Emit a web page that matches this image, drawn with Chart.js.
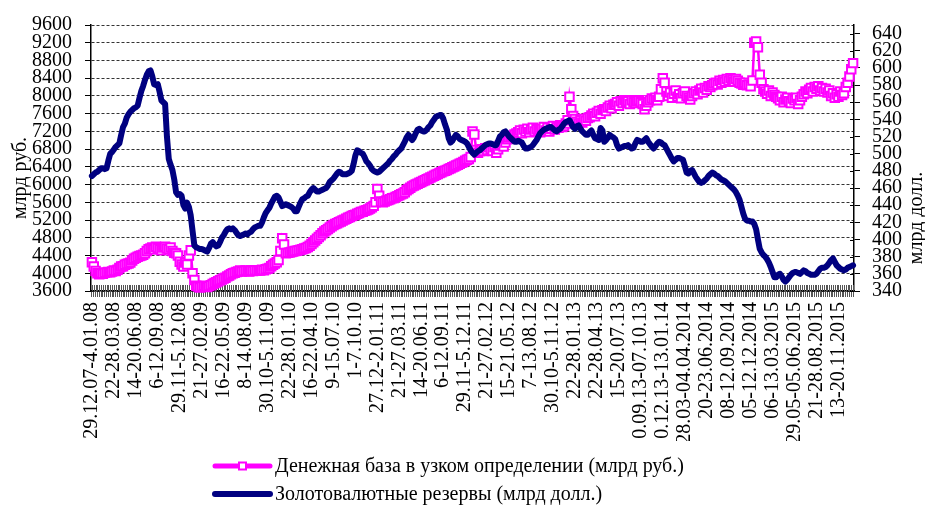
<!DOCTYPE html>
<html>
<head>
<meta charset="utf-8">
<script src="https://cdn.jsdelivr.net/npm/chart.js@4/dist/chart.umd.min.js"></script>
<style>
html,body{margin:0;padding:0;background:#fff;}
#wrap{width:925px;height:508px;position:relative;}
</style>
</head>
<body>
<div id="wrap"><canvas id="c" width="925" height="508"></canvas></div>
<script>
// ---- data ----
const tickLabels = ["29.12.07-4.01.08","22-28.03.08","14-20.06.08","6-12.09.08","29.11-5.12.08","21-27.02.09","16-22.05.09","8-14.08.09","30.10-5.11.09","22-28.01.10","16-22.04.10","9-15.07.10","1-7.10.10","27.12-2.01.11","21-27.03.11","14-20.06.11","6-12.09.11","29.11-5.12.11","21-27.02.12","15-21.05.12","7-13.08.12","30.10-5.11.12","22-28.01.13","22-28.04.13","15-20.07.13","0.09.13-07.10.13","0.12.13-13.01.14","28.03-04.04.2014","20-23.06.2014","08-12.09.2014","05-12.12.2014","06-13.03.2015","29.05-05.06.2015","21-28.08.2015","13-20.11.2015"];

const seriesNames = ["Денежная база в узком определении (млрд руб.)","Золотовалютные резервы (млрд долл.)"];
const axisTitles = ["млрд руб.","млрд долл."];

const moneyBase = [
4250,4150,4050,4000,3980,4000,3990,4010,4020,4030,
4020,4040,4060,4050,4080,4120,4150,4160,4190,4210,
4220,4240,4290,4330,4350,4370,4390,4400,4420,4450,
4500,4540,4560,4580,4540,4600,4570,4540,4520,4580,
4600,4560,4540,4580,4500,4460,4450,4400,4260,4200,
4150,4240,4200,4400,4520,4000,3850,3720,3700,3680,
3700,3720,3700,3690,3710,3730,3760,3780,3800,3820,
3840,3860,3880,3900,3930,3950,3980,4000,4010,4030,
4040,4060,4040,4050,4060,4050,4040,4060,4050,4070,
4060,4070,4060,4080,4070,4090,4100,4120,4160,4190,
4220,4250,4300,4500,4790,4650,4450,4460,4470,4480,
4490,4500,4510,4520,4530,4540,4560,4570,4590,4620,
4660,4700,4740,4780,4820,4860,4900,4940,4970,5000,
5030,5060,5090,5110,5130,5150,5170,5190,5210,5230,
5250,5270,5290,5310,5320,5340,5360,5380,5390,5410,
5420,5440,5460,5490,5520,5600,5900,5750,5620,5600,
5620,5640,5650,5670,5690,5700,5720,5740,5760,5780,
5800,5830,5870,5900,5930,5960,5980,6000,6020,6040,
6060,6080,6100,6120,6140,6160,6180,6200,6220,6240,
6260,6280,6300,6310,6330,6350,6370,6390,6410,6430,
6450,6470,6490,6510,6540,6560,6580,6620,7200,7130,
6780,6720,6760,6800,6760,6820,6780,6840,6800,6760,
6850,6720,6800,6880,6900,6860,6950,7020,7060,7100,
7080,7130,7150,7180,7220,7160,7240,7200,7260,7180,
7240,7280,7200,7250,7220,7180,7260,7300,7220,7280,
7200,7260,7320,7240,7300,7280,7340,7300,7320,7380,
7450,7980,7700,7550,7480,7420,7380,7450,7400,7480,
7440,7500,7520,7560,7600,7540,7620,7660,7600,7680,
7700,7660,7740,7780,7720,7800,7820,7860,7780,7880,
7840,7900,7860,7880,7820,7900,7860,7840,7880,7900,
7860,7820,7700,7780,7860,7900,7940,7920,7960,7900,
7980,8150,8400,8300,8100,8000,8080,7960,8050,8120,
7980,8040,7950,8060,8100,8000,7960,7920,8000,8060,
8100,8040,8120,8160,8080,8180,8140,8220,8200,8240,
8280,8300,8260,8340,8300,8360,8320,8380,8340,8400,
8360,8320,8380,8340,8300,8280,8250,8300,8240,8260,
8220,8350,9200,9230,9100,8480,8300,8150,8100,8050,
8120,8000,8080,8020,7980,7950,7900,7980,7860,7920,
7960,7880,7840,7940,7900,7960,7820,7900,7980,8040,
8100,8060,8140,8180,8100,8200,8160,8220,8120,8180,
8100,8160,8080,8120,8000,8060,7960,8040,7980,8100,
8020,8060,8200,8300,8440,8600,8740
];

const reserves = [
474,476,478,479,481,483,483,482,483,492,
500,502,505,508,510,512,522,531,535,542,
546,549,551,553,554,556,565,573,579,586,
592,596,597,590,581,580,581,572,562,560,
558,520,494,487,481,470,455,452,453,451,
440,436,443,438,428,410,393,391,390,389,
389,388,387,386,390,395,397,394,392,393,
397,402,405,409,412,413,412,413,411,408,
405,404,405,406,407,406,408,409,412,414,
415,416,416,420,426,431,434,437,442,446,
450,451,449,444,439,440,441,440,439,438,
436,433,433,438,443,447,448,450,451,455,
458,460,458,456,456,457,458,459,460,463,
467,469,471,474,477,479,478,476,476,476,
477,478,480,488,498,504,503,501,500,496,
491,489,486,482,480,479,478,479,481,483,
485,487,489,492,494,497,499,502,504,506,
510,514,519,522,519,516,519,524,528,529,
527,526,526,528,531,533,537,540,543,544,
545,545,541,534,528,518,513,515,519,522,
520,517,516,515,514,512,508,504,501,499,
501,503,504,506,508,510,511,512,512,511,
510,510,515,520,522,525,526,523,520,518,
516,514,514,515,514,513,509,506,506,507,
508,510,513,516,520,524,526,528,529,530,
531,531,529,527,526,528,529,532,535,537,
538,539,535,531,529,532,533,529,526,524,
522,522,525,527,522,518,517,516,530,527,
514,516,519,522,520,519,517,510,506,507,
508,509,509,510,508,506,507,512,516,515,
514,514,516,518,514,511,508,506,509,512,
514,513,511,510,506,502,498,494,491,493,
495,495,494,493,486,478,477,480,481,477,
473,470,467,466,467,469,471,474,476,478,
477,475,474,472,470,469,468,466,464,462,
460,458,455,451,446,438,430,424,422,422,
421,421,418,412,400,389,385,382,380,377,
373,368,362,356,356,359,360,357,353,351,
353,356,359,361,362,362,361,360,362,364,
363,361,360,359,359,359,360,363,366,367,
367,368,370,373,376,378,374,370,368,366,
365,364,365,367,368,369,370
];

const LABEL_EVERY = 12;
const categories = moneyBase.map((_, i) => (i % LABEL_EVERY === 0 ? (tickLabels[i / LABEL_EVERY] || '') : ''));

const FONT = "'Liberation Serif', 'Times New Roman', serif";
Chart.defaults.font.family = FONT;
Chart.defaults.font.size = 20;
Chart.defaults.color = '#000';

// ---- plugins ----
const innerTicks = {
  id: 'innerTicks',
  beforeDatasetsDraw(chart) {
    const {ctx, chartArea, scales} = chart;
    ctx.save();
    ctx.strokeStyle = '#555';
    ctx.lineWidth = 1;
    ctx.beginPath();
    const xs = scales.x;
    xs.ticks.forEach((t, i) => {
      const px = Math.round(xs.getPixelForTick(i)) + 0.5;
      ctx.moveTo(px, chartArea.bottom - 6);
      ctx.lineTo(px, chartArea.bottom);
    });
    ctx.stroke();
    ctx.strokeStyle = '#000';
    ctx.beginPath();
    const ys = scales.y2;
    ys.ticks.forEach((t, i) => {
      const py = Math.round(ys.getPixelForTick(i)) + 0.5;
      ctx.moveTo(chartArea.right - 4, py);
      ctx.lineTo(chartArea.right, py);
    });
    ctx.stroke();
    ctx.restore();
  }
};

const axisTitlePlugin = {
  id: 'axisTitles',
  afterDraw(chart, args, opts) {
    const ctx = chart.ctx;
    ctx.save();
    ctx.fillStyle = '#000';
    ctx.font = opts.font;
    ctx.textAlign = 'center';
    ctx.textBaseline = 'middle';
    opts.items.forEach(it => {
      ctx.save();
      ctx.translate(it.x, it.y);
      ctx.rotate(-Math.PI / 2);
      ctx.fillText(it.text, 0, 0);
      ctx.restore();
    });
    ctx.restore();
  }
};

const legendPlugin = {
  id: 'lineLegend',
  afterDraw(chart, args, opts) {
    const ctx = chart.ctx;
    ctx.save();
    chart.data.datasets.forEach((ds, k) => {
      const y = opts.y + k * opts.rowGap;
      ctx.strokeStyle = ds.borderColor;
      ctx.lineWidth = opts.lineWidth[k];
      ctx.lineCap = 'round';
      ctx.beginPath();
      ctx.moveTo(opts.x, y);
      ctx.lineTo(opts.x + opts.lineLen, y);
      ctx.stroke();
      if (ds.pointRadius > 0) {
        const s = 7;
        const cx = opts.x + opts.lineLen / 2;
        ctx.fillStyle = '#fff';
        ctx.fillRect(cx - s / 2, y - s / 2, s, s);
        ctx.lineWidth = 2;
        ctx.strokeStyle = ds.borderColor;
        ctx.strokeRect(cx - s / 2, y - s / 2, s, s);
      }
      ctx.fillStyle = '#000';
      ctx.font = opts.font;
      ctx.textAlign = 'left';
      ctx.textBaseline = 'middle';
      ctx.fillText(ds.label, opts.x + opts.lineLen + opts.gap, y + 1);
    });
    ctx.restore();
  }
};

// ---- chart ----
new Chart(document.getElementById('c'), {
  type: 'line',
  data: {
    labels: categories,
    datasets: [
      {
        label: seriesNames[0],
        data: moneyBase,
        yAxisID: 'y',
        borderColor: '#FF00FF',
        borderWidth: 2.5,
        pointStyle: 'rect',
        pointRadius: 6,
        pointBorderWidth: 2,
        pointBackgroundColor: '#FFFFFF',
        pointBorderColor: '#FF00FF',
        tension: 0,
        clip: false,
        order: 1
      },
      {
        label: seriesNames[1],
        data: reserves,
        yAxisID: 'y2',
        borderColor: '#000080',
        borderWidth: 6,
        pointRadius: 0,
        borderJoinStyle: 'round',
        borderCapStyle: 'round',
        tension: 0,
        clip: false,
        order: 0
      }
    ]
  },
  options: {
    responsive: false,
    animation: false,
    devicePixelRatio: 1,
    events: [],
    layout: { padding: { left: 32, right: 23, top: 7, bottom: 67 } },
    plugins: {
      legend: { display: false },
      tooltip: { enabled: false },
      axisTitles: {
        font: "20px " + FONT,
        items: [
          { text: axisTitles[0], x: 21, y: 178 },
          { text: axisTitles[1], x: 917, y: 218 }
        ]
      },
      lineLegend: {
        x: 215, y: 466, rowGap: 28, lineLen: 55, gap: 5,
        lineWidth: [5, 6],
        font: "20px " + FONT
      }
    },
    scales: {
      x: {
        type: 'category',
        offset: true,
        afterFit(scale) { scale.height = 150; },
        grid: { display: true, drawOnChartArea: false, drawTicks: true, tickLength: 6, tickColor: '#555', offset: false },
        border: { display: true, color: '#000', width: 1.5 },
        ticks: {
          autoSkip: false, minRotation: 90, maxRotation: 90, padding: 5,
          color: '#000', font: { family: FONT, size: 20 }
        }
      },
      y: {
        position: 'left',
        min: 3600, max: 9600,
        afterFit(scale) { scale.width = 59; },
        grid: { color: '#333', lineWidth: 1, tickLength: 6, tickColor: '#000', drawOnChartArea: true },
        border: { display: true, color: '#000', width: 1.5, dash: [3, 2] },
        ticks: {
          stepSize: 400, autoSkip: false, padding: 13, color: '#000',
          font: { family: FONT, size: 20 },
          callback: (v) => String(v)
        }
      },
      y2: {
        position: 'right',
        min: 340, max: 650,
        afterFit(scale) { scale.width = 48; },
        grid: { drawOnChartArea: false, tickLength: 6, tickColor: '#000' },
        border: { display: true, color: '#000', width: 1.5 },
        ticks: {
          stepSize: 20, includeBounds: false, autoSkip: false, padding: 12, color: '#000',
          font: { family: FONT, size: 20 },
          callback: (v) => String(v)
        }
      }
    }
  },
  plugins: [innerTicks, axisTitlePlugin, legendPlugin]
});
</script>
</body>
</html>
